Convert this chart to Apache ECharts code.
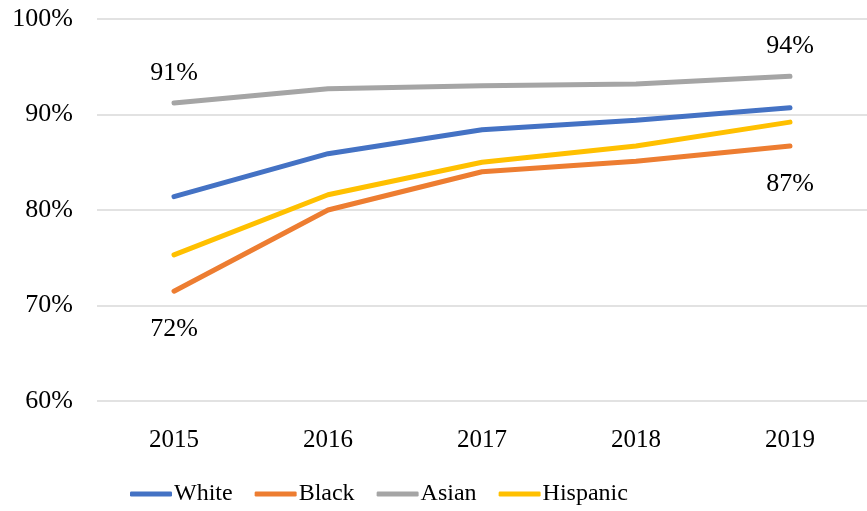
<!DOCTYPE html>
<html>
<head>
<meta charset="utf-8">
<script src="https://cdn.jsdelivr.net/npm/echarts@6/dist/echarts.min.js"></script>
<style>
html, body { margin: 0; padding: 0; background: #fff; }
#chart { width: 867px; height: 511px; }
</style>
</head>
<body>
<div id="chart"></div>
<script>
var years = ['2015', '2016', '2017', '2018', '2019'];
var white = [81.4, 85.9, 88.4, 89.4, 90.7];
var black = [71.5, 80.0, 84.0, 85.1, 86.7];
var asian = [91.2, 92.7, 93.0, 93.2, 94.0];
var hispanic = [75.3, 81.6, 85.0, 86.7, 89.2];

var fontFam = '"Liberation Serif", "DejaVu Serif", serif';

// label only first and last points of a series
function withLabels(values, pos, dist) {
    return values.map(function (v, i) {
        if (i === 0 || i === values.length - 1) {
            return { value: v, label: { show: true, position: pos, distance: dist } };
        }
        return v;
    });
}

function makeSeries(name, color, data) {
    return {
        name: name,
        type: 'line',
        data: data,
        symbol: 'circle',
        symbolSize: 0.1,
        showSymbol: true,
        lineStyle: { color: color, width: 5, cap: 'round' },
        itemStyle: { color: color },
        label: {
            show: false,
            formatter: function (p) { return Math.round(p.value) + '%'; },
            color: '#000',
            fontFamily: fontFam,
            fontSize: 26
        }
    };
}

var chart = echarts.init(document.getElementById('chart'));
chart.setOption({
    animation: false,
    grid: { left: 97, right: -10, top: 19, bottom: 110 },
    legend: {
        bottom: 0,
        left: 125,
        icon: 'roundRect',
        itemWidth: 42,
        itemHeight: 5,
        itemGap: 22,
        textStyle: { fontFamily: fontFam, fontSize: 24, color: '#000', padding: [0, 0, 0, -3] },
        data: ['White', 'Black', 'Asian', 'Hispanic']
    },
    xAxis: {
        type: 'category',
        data: years,
        boundaryGap: true,
        axisLine: { show: false },
        axisTick: { show: false },
        axisLabel: { color: '#000', fontFamily: fontFam, fontSize: 25, margin: 27 }
    },
    yAxis: {
        type: 'value',
        min: 60,
        max: 100,
        interval: 10,
        axisLine: { show: false },
        axisTick: { show: false },
        axisLabel: {
            color: '#000', fontFamily: fontFam, fontSize: 26, margin: 24,
            formatter: '{value}%'
        },
        splitLine: { lineStyle: { color: '#d9d9d9', width: 1.5 } }
    },
    series: [
        makeSeries('White', '#4472C4', white),
        makeSeries('Black', '#ED7D31', withLabels(black, 'bottom', 25)),
        makeSeries('Asian', '#A5A5A5', withLabels(asian, 'top', 17)),
        makeSeries('Hispanic', '#FFC000', hispanic)
    ]
});
</script>
</body>
</html>
